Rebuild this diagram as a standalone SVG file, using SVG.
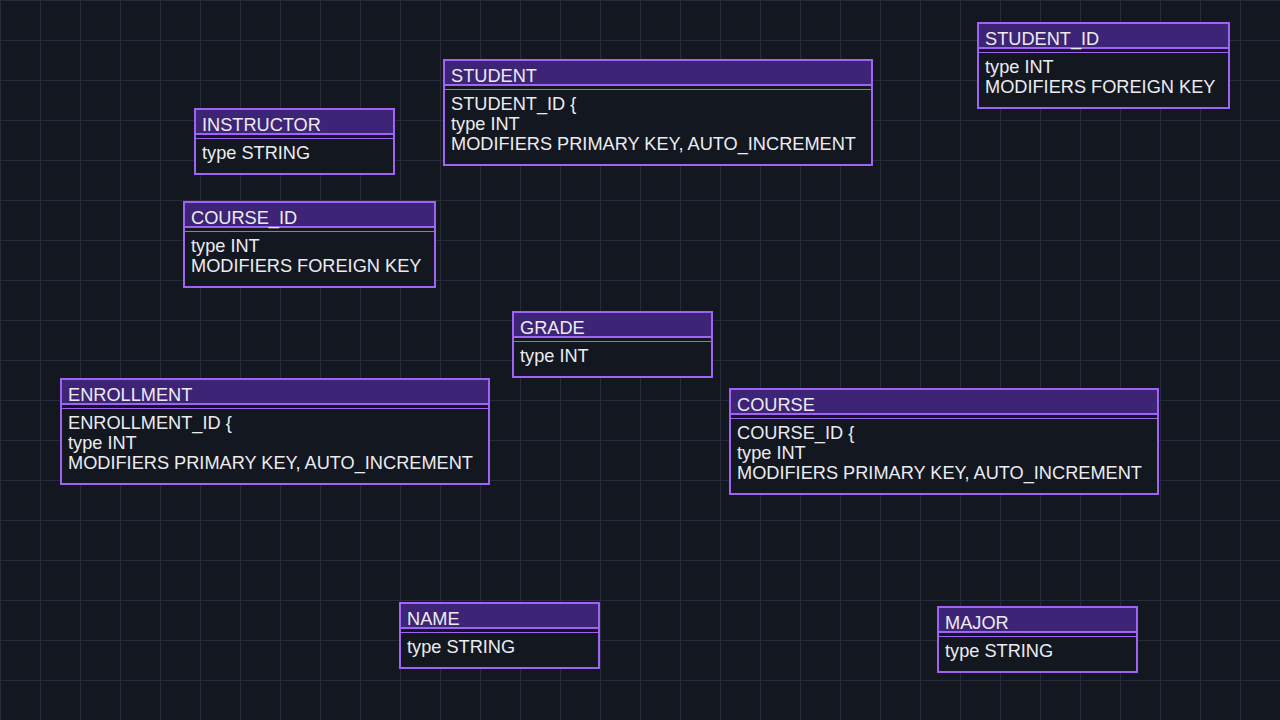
<svg xmlns="http://www.w3.org/2000/svg" width="1280" height="720" viewBox="0 0 1280 720">
<defs>
<pattern id="grid" x="0" y="0" width="40" height="40" patternUnits="userSpaceOnUse">
<path d="M0.5 0V40M0 0.5H40" fill="none" stroke="#272b3b" stroke-width="1"/>
</pattern>
</defs>
<style>
.box{fill:#131720;stroke:#a064f5;stroke-width:2}
.hdr{fill:#3e2476}
.l2{stroke:#a064f5;stroke-width:2}
.l1{stroke:#a064f5;stroke-width:1}
text{font-family:"Liberation Sans",Arial,sans-serif;font-size:18.2px;fill:#ececf0}
</style>
<rect width="1280" height="720" fill="#131720"/>
<rect width="1280" height="720" fill="url(#grid)"/>
<g id="connectors"></g>
<g id="student_id_fk" transform="translate(978,23)">
<rect class="box" width="251" height="85"/><rect class="hdr" x="1" y="1" width="249" height="24"/>
<line class="l2" x1="0" y1="25" x2="251" y2="25"/><line class="l1" x1="0" y1="29.5" x2="251" y2="29.5"/>
<text x="7" y="22">STUDENT_ID</text><text x="7" y="50">type INT</text><text x="7" y="70">MODIFIERS FOREIGN KEY</text>
</g>
<g id="student" transform="translate(444,60)">
<rect class="box" width="428" height="105"/><rect class="hdr" x="1" y="1" width="426" height="24"/>
<line class="l2" x1="0" y1="25" x2="428" y2="25"/><line class="l1" x1="0" y1="29.5" x2="428" y2="29.5"/>
<text x="7" y="22">STUDENT</text><text x="7" y="50">STUDENT_ID {</text><text x="7" y="70">type INT</text><text x="7" y="90">MODIFIERS PRIMARY KEY, AUTO_INCREMENT</text>
</g>
<g id="instructor" transform="translate(195,109)">
<rect class="box" width="199" height="65"/><rect class="hdr" x="1" y="1" width="197" height="24"/>
<line class="l2" x1="0" y1="25" x2="199" y2="25"/><line class="l1" x1="0" y1="29.5" x2="199" y2="29.5"/>
<text x="7" y="22">INSTRUCTOR</text><text x="7" y="50">type STRING</text>
</g>
<g id="course_id_fk" transform="translate(184,202)">
<rect class="box" width="251" height="85"/><rect class="hdr" x="1" y="1" width="249" height="24"/>
<line class="l2" x1="0" y1="25" x2="251" y2="25"/><line class="l1" x1="0" y1="29.5" x2="251" y2="29.5"/>
<text x="7" y="22">COURSE_ID</text><text x="7" y="50">type INT</text><text x="7" y="70">MODIFIERS FOREIGN KEY</text>
</g>
<g id="grade" transform="translate(513,312)">
<rect class="box" width="199" height="65"/><rect class="hdr" x="1" y="1" width="197" height="24"/>
<line class="l2" x1="0" y1="25" x2="199" y2="25"/><line class="l1" x1="0" y1="29.5" x2="199" y2="29.5"/>
<text x="7" y="22">GRADE</text><text x="7" y="50">type INT</text>
</g>
<g id="enrollment" transform="translate(61,379)">
<rect class="box" width="428" height="105"/><rect class="hdr" x="1" y="1" width="426" height="24"/>
<line class="l2" x1="0" y1="25" x2="428" y2="25"/><line class="l1" x1="0" y1="29.5" x2="428" y2="29.5"/>
<text x="7" y="22">ENROLLMENT</text><text x="7" y="50">ENROLLMENT_ID {</text><text x="7" y="70">type INT</text><text x="7" y="90">MODIFIERS PRIMARY KEY, AUTO_INCREMENT</text>
</g>
<g id="course" transform="translate(730,389)">
<rect class="box" width="428" height="105"/><rect class="hdr" x="1" y="1" width="426" height="24"/>
<line class="l2" x1="0" y1="25" x2="428" y2="25"/><line class="l1" x1="0" y1="29.5" x2="428" y2="29.5"/>
<text x="7" y="22">COURSE</text><text x="7" y="50">COURSE_ID {</text><text x="7" y="70">type INT</text><text x="7" y="90">MODIFIERS PRIMARY KEY, AUTO_INCREMENT</text>
</g>
<g id="name" transform="translate(400,603)">
<rect class="box" width="199" height="65"/><rect class="hdr" x="1" y="1" width="197" height="24"/>
<line class="l2" x1="0" y1="25" x2="199" y2="25"/><line class="l1" x1="0" y1="29.5" x2="199" y2="29.5"/>
<text x="7" y="22">NAME</text><text x="7" y="50">type STRING</text>
</g>
<g id="major" transform="translate(938,607)">
<rect class="box" width="199" height="65"/><rect class="hdr" x="1" y="1" width="197" height="24"/>
<line class="l2" x1="0" y1="25" x2="199" y2="25"/><line class="l1" x1="0" y1="29.5" x2="199" y2="29.5"/>
<text x="7" y="22">MAJOR</text><text x="7" y="50">type STRING</text>
</g>
</svg>
